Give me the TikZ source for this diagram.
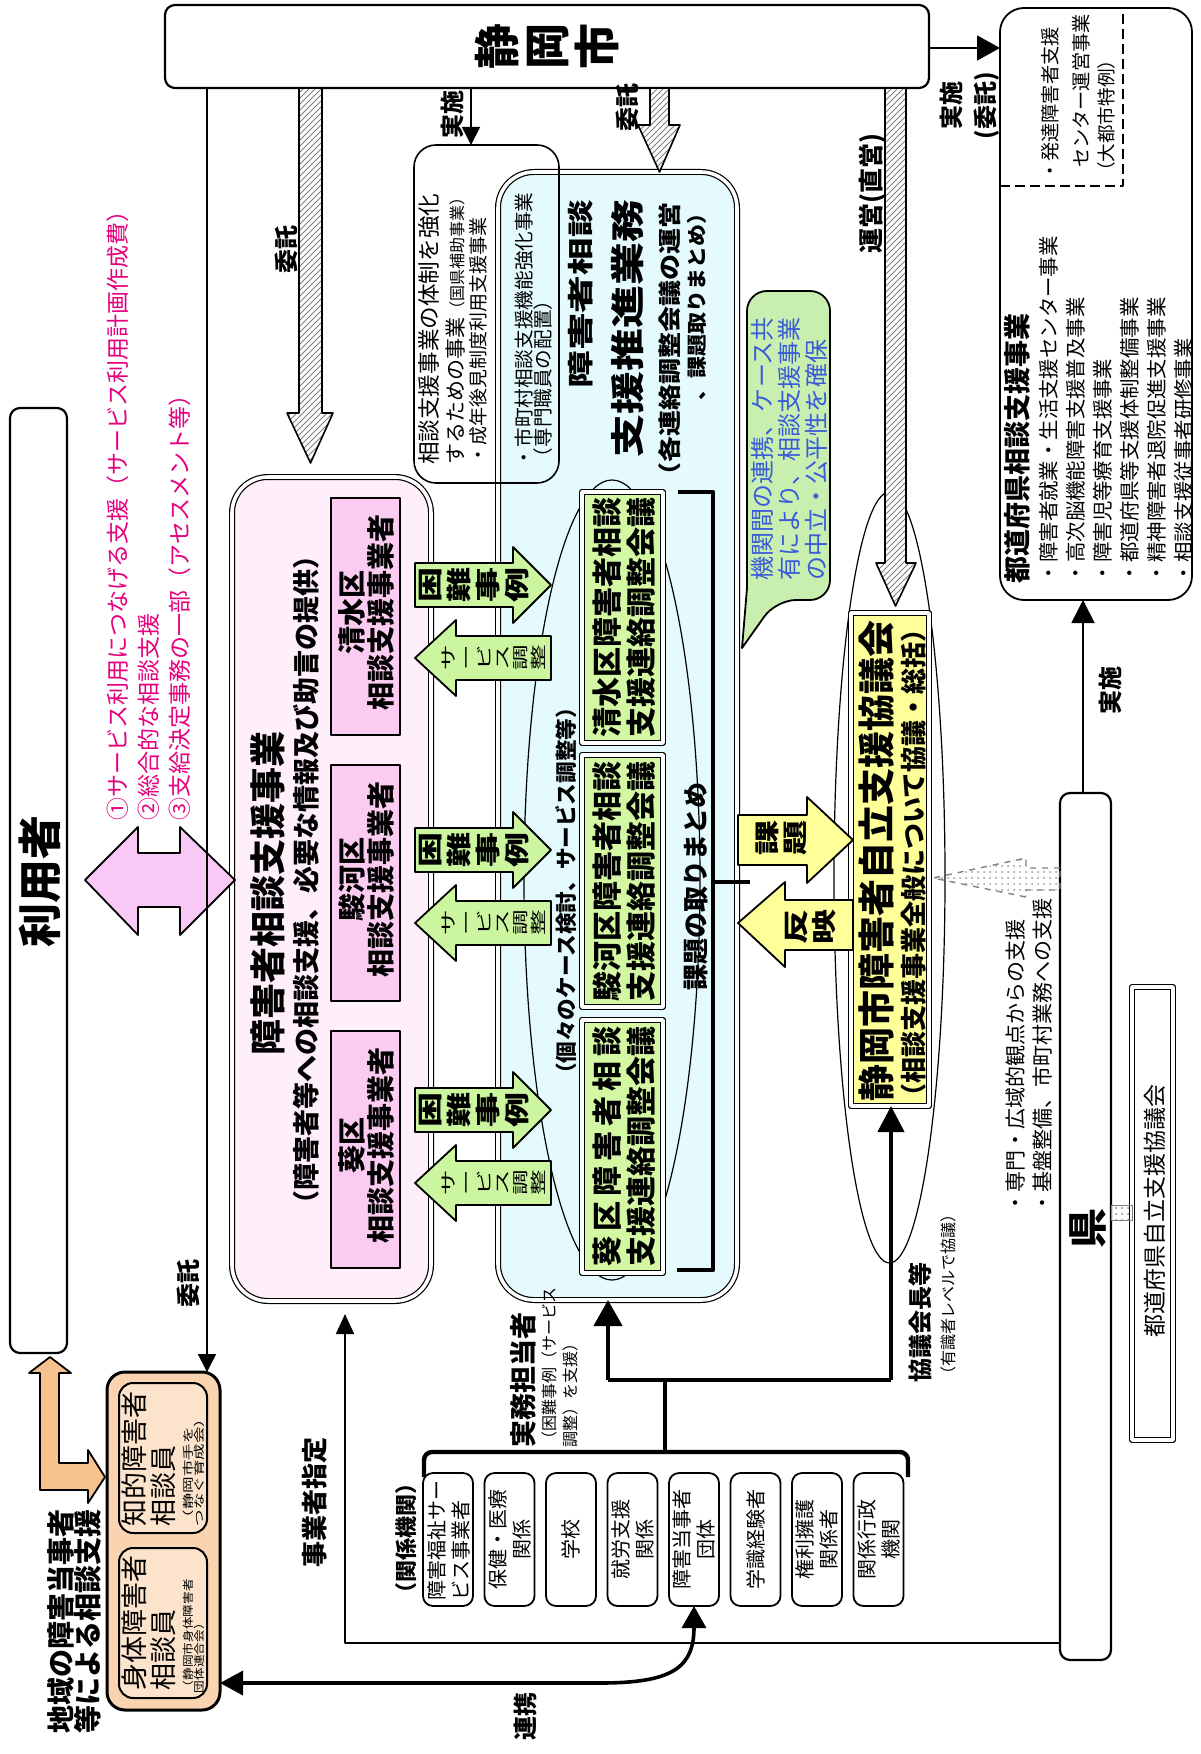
\documentclass[tikz,border=0pt]{standalone}
\usepackage{fontspec}
\usepackage{graphicx}
\setmainfont{Noto Sans CJK JP}
\usetikzlibrary{arrows.meta,shapes.geometric,patterns}
\definecolor{pinkbg}{HTML}{FFEFFB}
\definecolor{pinkin}{HTML}{FBCBF1}
\definecolor{pinkarr}{HTML}{F9C9F5}
\definecolor{cyanbg}{HTML}{E4FAFD}
\definecolor{greenbx}{HTML}{D3F7A3}
\definecolor{greenarr}{HTML}{CCF5A0}
\definecolor{callout}{HTML}{C8EFB0}
\definecolor{yel}{HTML}{FFFF99}
\definecolor{orangebg}{HTML}{FAD3B0}
\definecolor{orangein}{HTML}{FCE3CC}
\definecolor{orangearr}{HTML}{F8C28F}
\definecolor{pinktext}{HTML}{E5007F}
\definecolor{bluetext}{HTML}{3A5BD9}
\newcommand{\fz}[2]{\fontsize{#1pt}{#2pt}\selectfont}
\newcommand{\wa}[1]{\scalebox{1.4}[1]{#1}}
\newcommand{\wb}[1]{\scalebox{1.6}[1]{#1}}
\begin{document}
\begin{tikzpicture}[x=0.5pt,y=-0.5pt,line join=round,
 vt/.style={rotate=90,inner sep=0pt,outer sep=0pt},
 bx/.style={draw,line width=1pt,inner sep=0pt,outer sep=0pt},
 dbl/.style={draw,double,double distance=1.8pt,line width=0.6pt,inner sep=0pt,outer sep=0pt},
 hatch/.style={draw,line width=0.8pt,preaction={fill=white},pattern=north east lines,pattern color=gray},
 tline/.style={line width=0.8pt},
 fat/.style={line width=2.2pt},
 lbox/.style={bx,line width=0.9pt,rounded corners=5pt,minimum width=25pt,minimum height=66.5pt},
 ltxt/.style={vt,align=center,font=\fz{10}{12}}]
\useasboundingbox[fill=white] (0,0) rectangle (1200,1754);

% helper coordinates
\coordinate (c207) at (207,0);
\coordinate (c471) at (471,0);
\coordinate (c48) at (0,48);
\coordinate (c1083) at (1083,0);
\coordinate (c1643) at (0,1643);
\coordinate (c1683) at (0,1683);
\coordinate (c868) at (0,868);
\coordinate (c890) at (0,890);
\coordinate (c1205) at (0,1205);
\coordinate (c1220) at (0,1220);

% ---------- main boxes ----------
\node (rbox) [bx,line width=0.9pt,rounded corners=12pt,minimum width=96pt,minimum height=296pt] at (1096,304) {};
\draw[line width=1pt,dash pattern=on 5pt off 2.5pt] (1000,186) -- (1123,186) -- (1123,14);
\node (shizuoka) [bx,line width=1.1pt,rounded corners=5pt,fill=white,minimum width=382pt,minimum height=41.5pt] at (547,46.5) {};
\node (riyou) [bx,line width=1.1pt,rounded corners=5pt,minimum width=28.5pt,minimum height=472.5pt] at (38.5,880.5) {};
\node (ken) [bx,line width=1.1pt,rounded corners=5pt,minimum width=25.5pt,minimum height=433.5pt] at (1085.5,1226.5) {};
\node (todokyo) [dbl,minimum width=20.5pt,minimum height=226.5pt] at (1152.5,1213.5) {};
\node (orange) [bx,line width=1.5pt,rounded corners=9pt,fill=orangebg,minimum width=56.5pt,minimum height=169pt] at (163.5,1541) {};
\node (chiteki) [bx,rounded corners=7pt,fill=orangein,minimum width=44pt,minimum height=75pt] at (163,1458) {};
\node (shintai) [bx,rounded corners=7pt,fill=orangein,minimum width=44pt,minimum height=75pt] at (163,1623) {};
\node (soudan) [dbl,rounded corners=18pt,fill=pinkbg,minimum width=99.5pt,minimum height=412pt] at (331.5,889) {};
\node (pk1) [bx,line width=0.9pt,fill=pinkin,minimum width=34.5pt,minimum height=118.5pt] at (365.5,616.5) {};
\node (pk2) [bx,line width=0.9pt,fill=pinkin,minimum width=34.5pt,minimum height=118pt] at (365.5,883) {};
\node (pk3) [bx,line width=0.9pt,fill=pinkin,minimum width=34.5pt,minimum height=118.5pt] at (365.5,1149.5) {};
\node (suishin) [dbl,rounded corners=18pt,fill=cyanbg,minimum width=119.5pt,minimum height=564pt] at (617.5,736) {};
\node (caseell) [ellipse,draw,line width=0.6pt,inner sep=0pt,minimum width=88pt,minimum height=400pt] at (612,880) {};
\node (gk1) [dbl,fill=greenbx,minimum width=40.5pt,minimum height=125.5pt] at (622.5,617.5) {};
\node (gk2) [dbl,fill=greenbx,minimum width=40.5pt,minimum height=126pt] at (622.5,881) {};
\node (gk3) [dbl,fill=greenbx,minimum width=40.5pt,minimum height=126.5pt] at (622.5,1146.5) {};
\node (taisei) [bx,line width=0.8pt,rounded corners=11pt,minimum width=72.5pt,minimum height=169pt] at (486.5,314) {};
\draw[fill=callout,line width=0.9pt,rounded corners=10pt] (776,600) [sharp corners] -- (742,648) -- (747,588) [rounded corners=10pt] -- (747,291) -- (830,291) -- (830,600) -- cycle;
\node (bigell) [ellipse,draw,line width=0.6pt,inner sep=0pt,minimum width=55.5pt,minimum height=385.5pt] at (889.5,877.5) {};
\draw[hatch] (885,88) -- (885,563) -- (876,563) -- (895.5,606) -- (916,563) -- (906,563) -- (906,88) -- cycle;
\node (kyogikai) [dbl,fill=yel,minimum width=39pt,minimum height=246.5pt] at (890,859.5) {};
% list boxes
\node (lb1) [lbox] at (448,1539.5) {};
\node (lb2) [lbox] at (509.5,1539.5) {};
\node (lb3) [lbox] at (571,1539.5) {};
\node (lb4) [lbox] at (632.5,1539.5) {};
\node (lb5) [lbox] at (694,1539.5) {};
\node (lb6) [lbox] at (755.5,1539.5) {};
\node (lb7) [lbox] at (817,1539.5) {};
\node (lb8) [lbox] at (878.5,1539.5) {};

% ---------- block arrows ----------
\draw[hatch] (299,88) -- (299,413) -- (287,413) -- (310.5,463) -- (333,413) -- (322,413) -- (322,88) -- cycle;
\draw[hatch] (650,88) -- (650,125) -- (638,125) -- (659.5,172) -- (680,125) -- (669,125) -- (669,88) -- cycle;
\draw[fill=pinkarr,line width=0.9pt] (85,880) -- (138,827) -- (138,853) -- (180,853) -- (180,827) -- (235,880) -- (180,935) -- (180,907) -- (138,907) -- (138,935) -- cycle;
\foreach \i/\a/\b in {1/585/658,2/850/923,3/1110/1183}{
  \draw[fill=greenarr,line width=0.9pt] (415,{\a-22}) -- (513,{\a-22}) -- (513,{\a-38}) -- (551,\a) -- (513,{\a+38}) -- (513,{\a+22}) -- (415,{\a+22}) -- cycle;
  \draw[fill=greenarr,line width=0.9pt] (551,{\b-22}) -- (456,{\b-22}) -- (456,{\b-38}) -- (415,\b) -- (456,{\b+38}) -- (456,{\b+22}) -- (551,{\b+22}) -- cycle;
  \node (kn\i) [vt,align=center,font=\bfseries\fz{12.5}{14.5}] at (474,\a) {\wa{困}\\\wa{難}\\\wa{事}\\\wa{例}};
  \node (sv\i) [vt,align=center,font=\fz{8}{9}] at (494,\b) {\wb{サ}\\\wb{ー}\\\wb{ビ}\\\wb{ス}\\\wb{調}\\\wb{整}};
}
\draw[fill=yel,line width=0.9pt] (738,815) -- (807,815) -- (807,797) -- (853,840) -- (807,883) -- (807,865) -- (738,865) -- cycle;
\draw[fill=yel,line width=0.9pt] (853,900) -- (785,900) -- (785,882) -- (738,923) -- (785,967) -- (785,950) -- (853,950) -- cycle;
\draw[fill=orangearr,line width=0.9pt] (50,1357) -- (71,1373) -- (59,1373) -- (59,1463) -- (88,1463) -- (88,1450) -- (105,1477) -- (88,1503) -- (88,1490) -- (40,1490) -- (40,1373) -- (29,1373) -- cycle;
\draw[draw=gray,dashed,line width=0.7pt,pattern=dots,pattern color=gray!80] (ken.west |- c868) -- (1026,868) -- (1026,858) -- (933,878) -- (1026,897) -- (1026,890) -- (ken.west |- c890) -- cycle;
\draw[draw=gray,pattern=dots,pattern color=gray] (ken.east |- c1205) rectangle (todokyo.west |- c1220);

% ---------- thin connectors ----------
\draw[tline,-{Triangle[length=9pt,width=9pt]}] (shizuoka.south -| c207) -- (orange.north -| c207);
\draw[tline,-{Triangle[length=9pt,width=9pt]}] (shizuoka.south -| c471) -- (taisei.north -| c471);
\draw[tline,-{Triangle[length=11.5pt,width=12.5pt]}] (shizuoka.east |- c48) -- (rbox.west |- c48);
\draw[tline,-{Triangle[length=11.5pt,width=11.5pt]}] (ken.north -| c1083) -- (rbox.south -| c1083);
\coordinate (jg) at (345,1643);
\coordinate (jgtip) at (345,1314);
\draw[tline,-{Triangle[length=10pt,width=9pt]}] (ken.west |- c1643) -- (jg) -- (jgtip);
\draw[line width=1.8pt,{Triangle[length=11.5pt,width=12pt]}-{Triangle[length=11pt,width=12pt]}] (orange.east |- c1683) -- (600,1683) .. controls (672,1683) and (694,1668) .. (lb5.south);

% brace and bracket
\draw[fat] (678,492) -- (713,492) -- (713,1270) -- (677,1270);
\draw[fat] (713,882) -- (750,882);
\draw[fat,rounded corners=4pt] (424,1477) -- (424,1452) -- (908,1452) -- (908,1477);
\draw[fat] (665,1452) -- (665,1380);
\coordinate (hbL) at (608,1380);
\coordinate (hbR) at (891,1380);
\draw[fat] (hbL) -- (hbR);
\draw[fat,-{Triangle[length=13pt,width=14pt]}] (hbL) -- (hbL |- suishin.south);
\draw[fat,-{Triangle[length=13pt,width=13pt]}] (hbR) -- (hbR |- kyogikai.south);

% ---------- texts ----------
\node (tShz) [vt,align=center,font=\bfseries\fz{23}{25}] at (shizuoka) {静\\岡\\市};
\node (tJ1) [vt,font=\bfseries\fz{12}{12}] at (452,115) {実施};
\node (tI1) [vt,font=\bfseries\fz{12}{12}] at (627,108) {委託};
\node (tI2) [vt,font=\bfseries\fz{12}{12}] at (286,250) {委託};
\node (tUn) [vt,font=\bfseries\fz{12.5}{12.5}] at (872,194) {運営(直営)};
\node (tJ2) [vt,align=center,font=\bfseries\fz{12}{17}] at (970,106) {実施\\(委託)};
\node (tR1) [vt,anchor=west,font=\fz{9.6}{10}] at (1050,181) {・発達障害者支援};
\node (tR2) [vt,anchor=west,font=\fz{9.6}{10}] at (1081,168) {センター運営事業};
\node (tR3) [vt,anchor=west,font=\fz{9.3}{10}] at (1106,181) {（大都市特例）};
\node (tR4) [vt,anchor=west,font=\bfseries\fz{13.5}{14}] at (1017,583) {都道府県相談支援事業};
\node (tR5) [vt,anchor=west,align=left,font=\fz{10.2}{13.5}] at (1116,583) {・障害者就業・生活支援センター事業\\・高次脳機能障害支援普及事業\\・障害児等療育支援事業\\・都道府県等支援体制整備事業\\・精神障害者退院促進支援事業\\・相談支援従事者研修事業};
\node (tJ3) [vt,font=\bfseries\fz{12}{12}] at (1110,690) {実施};
\node (tKen) [vt,font=\bfseries\fz{20}{20}] at (1088,1228) {県};
\node (tTd) [vt,font=\fz{11.5}{12}] at (1155,1211) {都道府県自立支援協議会};
\node (tKs) [vt,anchor=west,align=left,font=\fz{10.5}{13.5}] at (1028.5,1213) {・専門・広域的観点からの支援\\・基盤整備、市町村業務への支援};
\node (tRiyou) [vt,font=\bfseries\fz{22}{22}] at (40,881) {利用者};
\node (tPl) [vt,anchor=west,align=left,text=pinktext,font=\fz{11.5}{15.5}] at (149,820) {①サービス利用につなげる支援（サービス利用計画作成費）\\②総合的な相談支援\\③支給決定事務の一部（アセスメント等）};
\node (tP1) [vt,font=\bfseries\fz{18}{18}] at (268,893) {障害者相談支援事業};
\node (tP2) [vt,font=\bfseries\fz{13.5}{14}] at (306,880) {（障害者等への相談支援、必要な情報及び助言の提供）};
\node (tPk1) [vt,align=center,font=\bfseries\fz{14}{14.5}] at (366.5,612) {清水区\\相談支援事業者};
\node (tPk2) [vt,align=center,font=\bfseries\fz{14}{14.5}] at (366.5,879) {駿河区\\相談支援事業者};
\node (tPk3) [vt,align=center,font=\bfseries\fz{14}{14.5}] at (366.5,1145) {葵区\\相談支援事業者};
\node (tTa1) [vt,anchor=west,font=\fz{11.3}{12}] at (429,465) {相談支援事業の体制を強化};
\node (tTa2) [vt,anchor=west,font=\fz{10.5}{11}] at (455.5,465) {するための事業{\fz{8}{8}（国県補助事業）}};
\node (tTa3) [vt,anchor=west,font=\fz{9.5}{10}] at (478.5,465) {・成年後見制度利用支援事業};
\node (tSc) [vt,anchor=west,align=left,font=\fz{9.8}{9.5}] at (534,467) {・市町村相談支援機能強化事業\\（専門職員の配置）};
\node (tT1) [vt,anchor=east,font=\bfseries\fz{13}{13}] at (581,200) {\scalebox{1.45}[1]{障害者相談}};
\node (tT2) [vt,anchor=east,font=\bfseries\fz{17}{17}] at (628,200) {\scalebox{1.26}[1]{支援推進業務}};
\node (tT3) [vt,anchor=east,font=\bfseries\fz{11.5}{12}] at (670,203) {\scalebox{1.13}[1]{（各連絡調整会議の運営}};
\node (tT4) [vt,anchor=east,font=\bfseries\fz{10}{10}] at (697,203) {\scalebox{1.1}[1]{、課題取りまとめ）}};
\node (tCase) [vt,font=\bfseries\fz{10.8}{11}] at (566,891) {（個々のケース検討、サービス調整等）};
\node (tG1) [vt,align=center,font=\bfseries\fz{15}{17}] at (624,617.5) {清水区障害者相談\\支援連絡調整会議};
\node (tG2) [vt,align=center,font=\bfseries\fz{15}{17}] at (624,881) {駿河区障害者相談\\支援連絡調整会議};
\node (tG3) [vt,align=center,font=\bfseries\fz{15}{17}] at (624,1146.5) {\makebox[8em]{葵\hfill 区\hfill 障\hfill 害\hfill 者\hfill 相\hfill 談}\\支援連絡調整会議};
\node (tKt) [vt,font=\bfseries\fz{13}{13}] at (696,886) {課題の取りまとめ};
\node (tCo) [vt,anchor=west,align=left,text=bluetext,font=\fz{12}{13.5}] at (789,580) {機関間の連携、ケース共\\有により、相談支援事業\\の中立・公平性を確保};
\node (tKd) [vt,align=center,font=\bfseries\fz{12.5}{14}] at (781,838) {\wa{課}\\\wa{題}};
\node (tHe) [vt,align=center,font=\bfseries\fz{12.5}{14}] at (811,927) {\wa{反}\\\wa{映}};
\node (tKy1) [vt,font=\bfseries\fz{18.5}{19}] at (876,861) {静岡市障害者自立支援協議会};
\node (tKy2) [vt,font=\bfseries\fz{13}{13}] at (914,863) {（相談支援事業全般について協議・総括）};
\node (tJg) [vt,font=\bfseries\fz{13}{13}] at (315,1502) {事業者指定};
\node (tI3) [vt,font=\bfseries\fz{12}{12}] at (188,1283) {委託};
\node (tChi) [vt,anchor=west,align=left,font=\bfseries\fz{14}{13.5}] at (74.5,1733) {地域の障害当事者\\等による相談支援};
\node (tC1) [vt,anchor=west,font=\fz{13.5}{14}] at (134.5,1526) {知的障害者};
\node (tC2) [vt,anchor=west,font=\fz{13.5}{14}] at (163.5,1526) {相談員};
\node (tC3) [vt,anchor=west,align=left,font=\fz{5.5}{5.75}] at (194,1526) {\scalebox{1.5}[1]{（静岡市手を}\\\scalebox{1.5}[1]{つなぐ育成会）}};
\node (tS1) [vt,anchor=west,font=\fz{13.5}{14}] at (134.5,1690) {身体障害者};
\node (tS2) [vt,anchor=west,font=\fz{13.5}{14}] at (163.5,1690) {相談員};
\node (tS3) [vt,anchor=west,align=left,font=\fz{5.5}{5.75}] at (194,1693) {\scalebox{1.15}[1]{（静岡市身体障害者}\\\scalebox{1.15}[1]{団体連合会）}};
\node (tRk) [vt,font=\bfseries\fz{12}{12}] at (525,1716) {連携};
\node (tKk) [vt,font=\bfseries\fz{11}{11}] at (406,1538) {（関係機関）};
\node (tL1) [ltxt,align=left,anchor=west] at (449,1600) {障害福祉サー\\ビス事業者};
\node (tL2) [ltxt] at (lb2) {保健・医療\\関係};
\node (tL3) [ltxt] at (lb3) {学校};
\node (tL4) [ltxt] at (lb4) {就労支援\\関係};
\node (tL5) [ltxt] at (lb5) {障害当事者\\団体};
\node (tL6) [ltxt] at (lb6) {学識経験者};
\node (tL7) [ltxt] at (lb7) {権利擁護\\関係者};
\node (tL8) [ltxt] at (lb8) {関係行政\\機関};
\node (tJm) [vt,anchor=west,font=\bfseries\fz{13.5}{14}] at (523,1447) {実務担当者};
\node (tJm2) [vt,anchor=west,align=left,font=\fz{8}{10.5}] at (559.5,1447) {（困難事例（サービス\\調整）を支援）};
\node (tKc) [vt,anchor=west,font=\bfseries\fz{12}{12}] at (920,1382) {協議会長等};
\node (tKc2) [vt,anchor=west,font=\fz{8}{8}] at (948,1382) {（有識者レベルで協議）};
\end{tikzpicture}
\end{document}
